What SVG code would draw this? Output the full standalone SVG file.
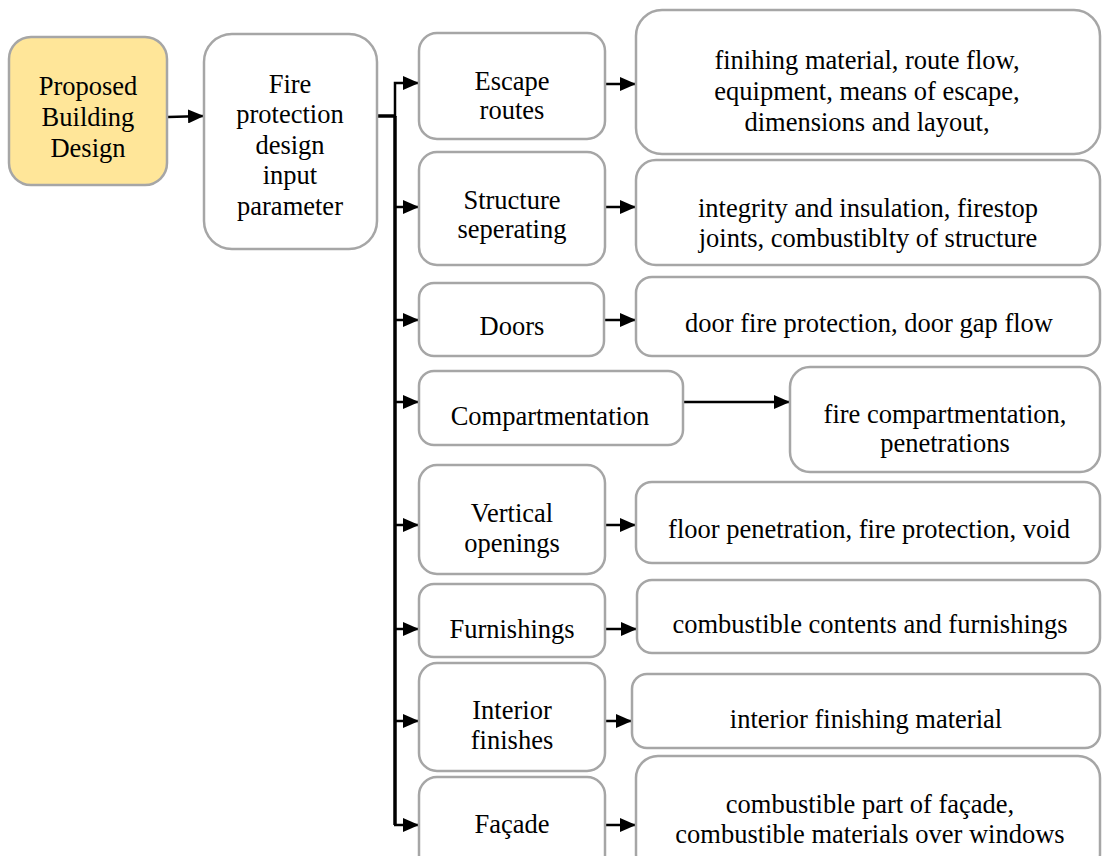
<svg xmlns="http://www.w3.org/2000/svg" width="1102" height="856" viewBox="0 0 1102 856">
  <style>
    .box { fill: #ffffff; stroke: #a6a6a6; stroke-width: 2.5; }
    .start { fill: #ffe699; }
    text { font-family: "Liberation Serif", "Times New Roman", serif; font-size: 26.5px; fill: #000000; text-anchor: middle; }
    .wire { fill: none; stroke: #000000; stroke-width: 2.5; }
    .bus { fill: none; stroke: #000000; stroke-width: 3.5; }
  </style>
  <defs>
    <marker id="head" markerUnits="userSpaceOnUse" markerWidth="16" markerHeight="14" refX="16" refY="7" orient="auto">
      <path d="M0,0 L16,7 L0,14 Z" fill="#000000"/>
    </marker>
  </defs>

  <!-- connectors -->
  <g id="connectors">
    <path class="wire" d="M168,117 L204,116" marker-end="url(#head)"/>
    <path class="bus" d="M369,116 H396"/>
    <path class="bus" d="M395,116 V825"/>
    <path class="wire" d="M395,117 V83 H419" marker-end="url(#head)"/>
    <path class="wire" d="M395,207 H419" marker-end="url(#head)"/>
    <path class="wire" d="M395,320 H419" marker-end="url(#head)"/>
    <path class="wire" d="M395,402 H419" marker-end="url(#head)"/>
    <path class="wire" d="M395,525 H419" marker-end="url(#head)"/>
    <path class="wire" d="M395,629 H419" marker-end="url(#head)"/>
    <path class="wire" d="M395,721 H419" marker-end="url(#head)"/>
    <path class="wire" d="M394,825 H419" marker-end="url(#head)"/>
    <path class="wire" d="M605,84 H636" marker-end="url(#head)"/>
    <path class="wire" d="M605,207 H636" marker-end="url(#head)"/>
    <path class="wire" d="M604,320 H636" marker-end="url(#head)"/>
    <path class="wire" d="M683,402 H790" marker-end="url(#head)"/>
    <path class="wire" d="M605,525 H636" marker-end="url(#head)"/>
    <path class="wire" d="M605,629 H637" marker-end="url(#head)"/>
    <path class="wire" d="M605,721 H632" marker-end="url(#head)"/>
    <path class="wire" d="M605,825 H636" marker-end="url(#head)"/>
  </g>

  <!-- source and input parameter -->
  <g id="proposed-building-design">
    <rect class="box start" x="9" y="37" width="158" height="148" rx="22"/>
    <text x="88" y="95">Proposed</text>
    <text x="88" y="126">Building</text>
    <text x="88" y="157">Design</text>
  </g>
  <g id="fire-protection-input">
    <rect class="box" x="204" y="34" width="173" height="215" rx="28"/>
    <text x="290" y="93">Fire</text>
    <text x="290" y="123">protection</text>
    <text x="290" y="154">design</text>
    <text x="290" y="184">input</text>
    <text x="290" y="215">parameter</text>
  </g>

  <!-- parameter categories -->
  <g id="escape-routes">
    <rect class="box" x="419" y="33" width="186" height="106" rx="18"/>
    <text x="512" y="90">Escape</text>
    <text x="512" y="119">routes</text>
  </g>
  <g id="structure-separating">
    <rect class="box" x="419" y="152" width="186" height="113" rx="18"/>
    <text x="512" y="209">Structure</text>
    <text x="512" y="238">seperating</text>
  </g>
  <g id="doors">
    <rect class="box" x="419" y="283" width="185" height="73" rx="15"/>
    <text x="512" y="335">Doors</text>
  </g>
  <g id="compartmentation">
    <rect class="box" x="419" y="371" width="264" height="74" rx="15"/>
    <text x="550" y="425">Compartmentation</text>
  </g>
  <g id="vertical-openings">
    <rect class="box" x="419" y="465" width="186" height="109" rx="18"/>
    <text x="512" y="522">Vertical</text>
    <text x="512" y="552">openings</text>
  </g>
  <g id="furnishings">
    <rect class="box" x="419" y="584" width="186" height="73" rx="15"/>
    <text x="512" y="638">Furnishings</text>
  </g>
  <g id="interior-finishes">
    <rect class="box" x="419" y="663" width="186" height="108" rx="18"/>
    <text x="512" y="719">Interior</text>
    <text x="512" y="749">finishes</text>
  </g>
  <g id="facade">
    <rect class="box" x="419" y="777" width="186" height="100" rx="18"/>
    <text x="512" y="833">Façade</text>
  </g>

  <!-- details -->
  <g id="escape-routes-detail">
    <rect class="box" x="636" y="10" width="464" height="144" rx="26"/>
    <text x="867" y="69">finihing material, route flow,</text>
    <text x="867" y="100">equipment, means of escape,</text>
    <text x="867" y="131">dimensions and layout,</text>
  </g>
  <g id="structure-detail">
    <rect class="box" x="636" y="160" width="464" height="105" rx="20"/>
    <text x="868" y="217">integrity and insulation, firestop</text>
    <text x="868" y="247">joints, combustiblty of structure</text>
  </g>
  <g id="doors-detail">
    <rect class="box" x="636" y="277" width="464" height="79" rx="16"/>
    <text x="869" y="332">door fire protection, door gap flow</text>
  </g>
  <g id="compartmentation-detail">
    <rect class="box" x="790" y="367" width="310" height="105" rx="20"/>
    <text x="945" y="423">fire compartmentation,</text>
    <text x="945" y="452">penetrations</text>
  </g>
  <g id="vertical-openings-detail">
    <rect class="box" x="636" y="482" width="464" height="81" rx="16"/>
    <text x="869" y="538">floor penetration, fire protection, void</text>
  </g>
  <g id="furnishings-detail">
    <rect class="box" x="637" y="580" width="463" height="73" rx="15"/>
    <text x="870" y="633">combustible contents and furnishings</text>
  </g>
  <g id="interior-finishes-detail">
    <rect class="box" x="632" y="674" width="468" height="74" rx="15"/>
    <text x="866" y="728">interior finishing material</text>
  </g>
  <g id="facade-detail">
    <rect class="box" x="636" y="756" width="464" height="120" rx="22"/>
    <text x="870" y="813">combustible part of façade,</text>
    <text x="870" y="843">combustible materials over windows</text>
  </g>
</svg>
